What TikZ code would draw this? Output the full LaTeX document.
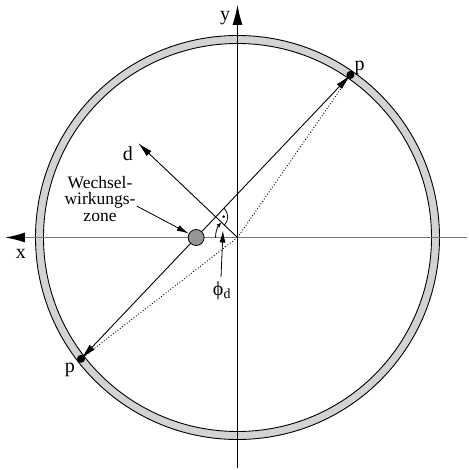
\documentclass[tikz,border=0pt]{standalone}
\usepackage{fontspec}
\setmainfont{Liberation Serif}
\usetikzlibrary{arrows.meta,positioning,calc}
\definecolor{ringgray}{RGB}{211,211,211}
\definecolor{axisgray}{RGB}{120,120,120}
\definecolor{zonegray}{RGB}{150,150,150}
\tikzset{
  ring/.style={draw=black, line width=0.9pt, fill=ringgray, even odd rule},
  axisline/.style={line width=1.3pt, -{Latex[length=20pt,width=10pt,color=black]}},
  arrow/.style={-{Latex[length=15pt,width=7pt]}, line width=0.9pt},
  smallarrow/.style={-{Latex[length=12pt,width=6pt]}, line width=0.8pt},
  dot/.style={circle, fill=black, inner sep=0pt, minimum size=8pt},
  zone/.style={circle, draw=black, fill=zonegray, line width=0.8pt, inner sep=0pt, minimum size=16pt},
  lbl/.style={font=\fontsize{20}{22}\selectfont, inner sep=1pt},
  zonetext/.style={font=\fontsize{17.5}{16.5}\selectfont, align=center, inner sep=1pt},
}

\begin{document}
\begin{tikzpicture}[x=1pt,y=1pt]
\useasboundingbox (-237.5,-232.5) rectangle (230.5,237.5);
\def\phid{136.5}
\pgfmathsetmacro\half{acos(30/198)}
% detector ring
\path[ring] (0,0) circle (202) (0,0) circle (194);
% axes
\coordinate (O) at (0,0);
\coordinate (xl) at (-232.5,0);
\coordinate (xr) at (229.5,0);
\coordinate (yb) at (0,-230);
\coordinate (yt) at (0,232.5);
\draw[axisline, draw=axisgray] (xr) -- (xl);
\draw[axisline, line width=0.9pt] (yb) -- (yt);
\node[lbl] (xlab) at (-216.5,-16.5) {x};
\node[lbl] (ylab) at (-12.5,219.5) {y};
% track points
\coordinate (p1) at (\phid-\half:198);
\coordinate (p2) at (\phid+\half:198);
\coordinate (F) at (\phid:30);
\coordinate (dtip) at (\phid:137);
\draw[dotted, line width=0.9pt] (O) -- (p1);
\draw[dotted, line width=0.9pt] (O) -- (p2);
\draw[{Latex[length=16pt,width=7pt]}-{Latex[length=16pt,width=7pt]}, line width=0.9pt] (p2) -- (p1);
\node[dot] (P1) at (p1) {};
\node[dot] (P2) at (p2) {};
\node[lbl, above right=-4pt and 0pt of P1] (p1lab) {p};
\node[lbl, below left=0pt and 2pt of P2] (p2lab) {p};
\node[zone] (Z) at (intersection of p1--p2 and xl--xr) {};
% impact parameter
\draw[arrow] (O) -- (dtip);
\node[lbl] (dlab) at (-109.5,84) {d};
\draw[line width=0.8pt] (F) ++(\phid-180:12) arc[start angle=\phid-180, end angle=\phid-90, radius=12];
\fill ($(F)+(\phid-135:8)$) circle (1.4);
% angle
\draw[-{Latex[length=5pt,width=4pt]}, line width=0.8pt] (O) ++(180:22) arc[start angle=180, end angle=\phid, radius=22];
\node[lbl] (philab) at (-15.5,-53) {ϕ\textsubscript{d}};
\draw[smallarrow] ([yshift=3pt,xshift=-1pt]philab.north) -- (-14.5,7);
% zone label
\node[zonetext] (wz) at (-137.5,38.5) {Wechsel-\\wirkungs-\\zone};
\draw[smallarrow] ([yshift=-7pt]wz.east) -- (Z);
\end{tikzpicture}
\end{document}
